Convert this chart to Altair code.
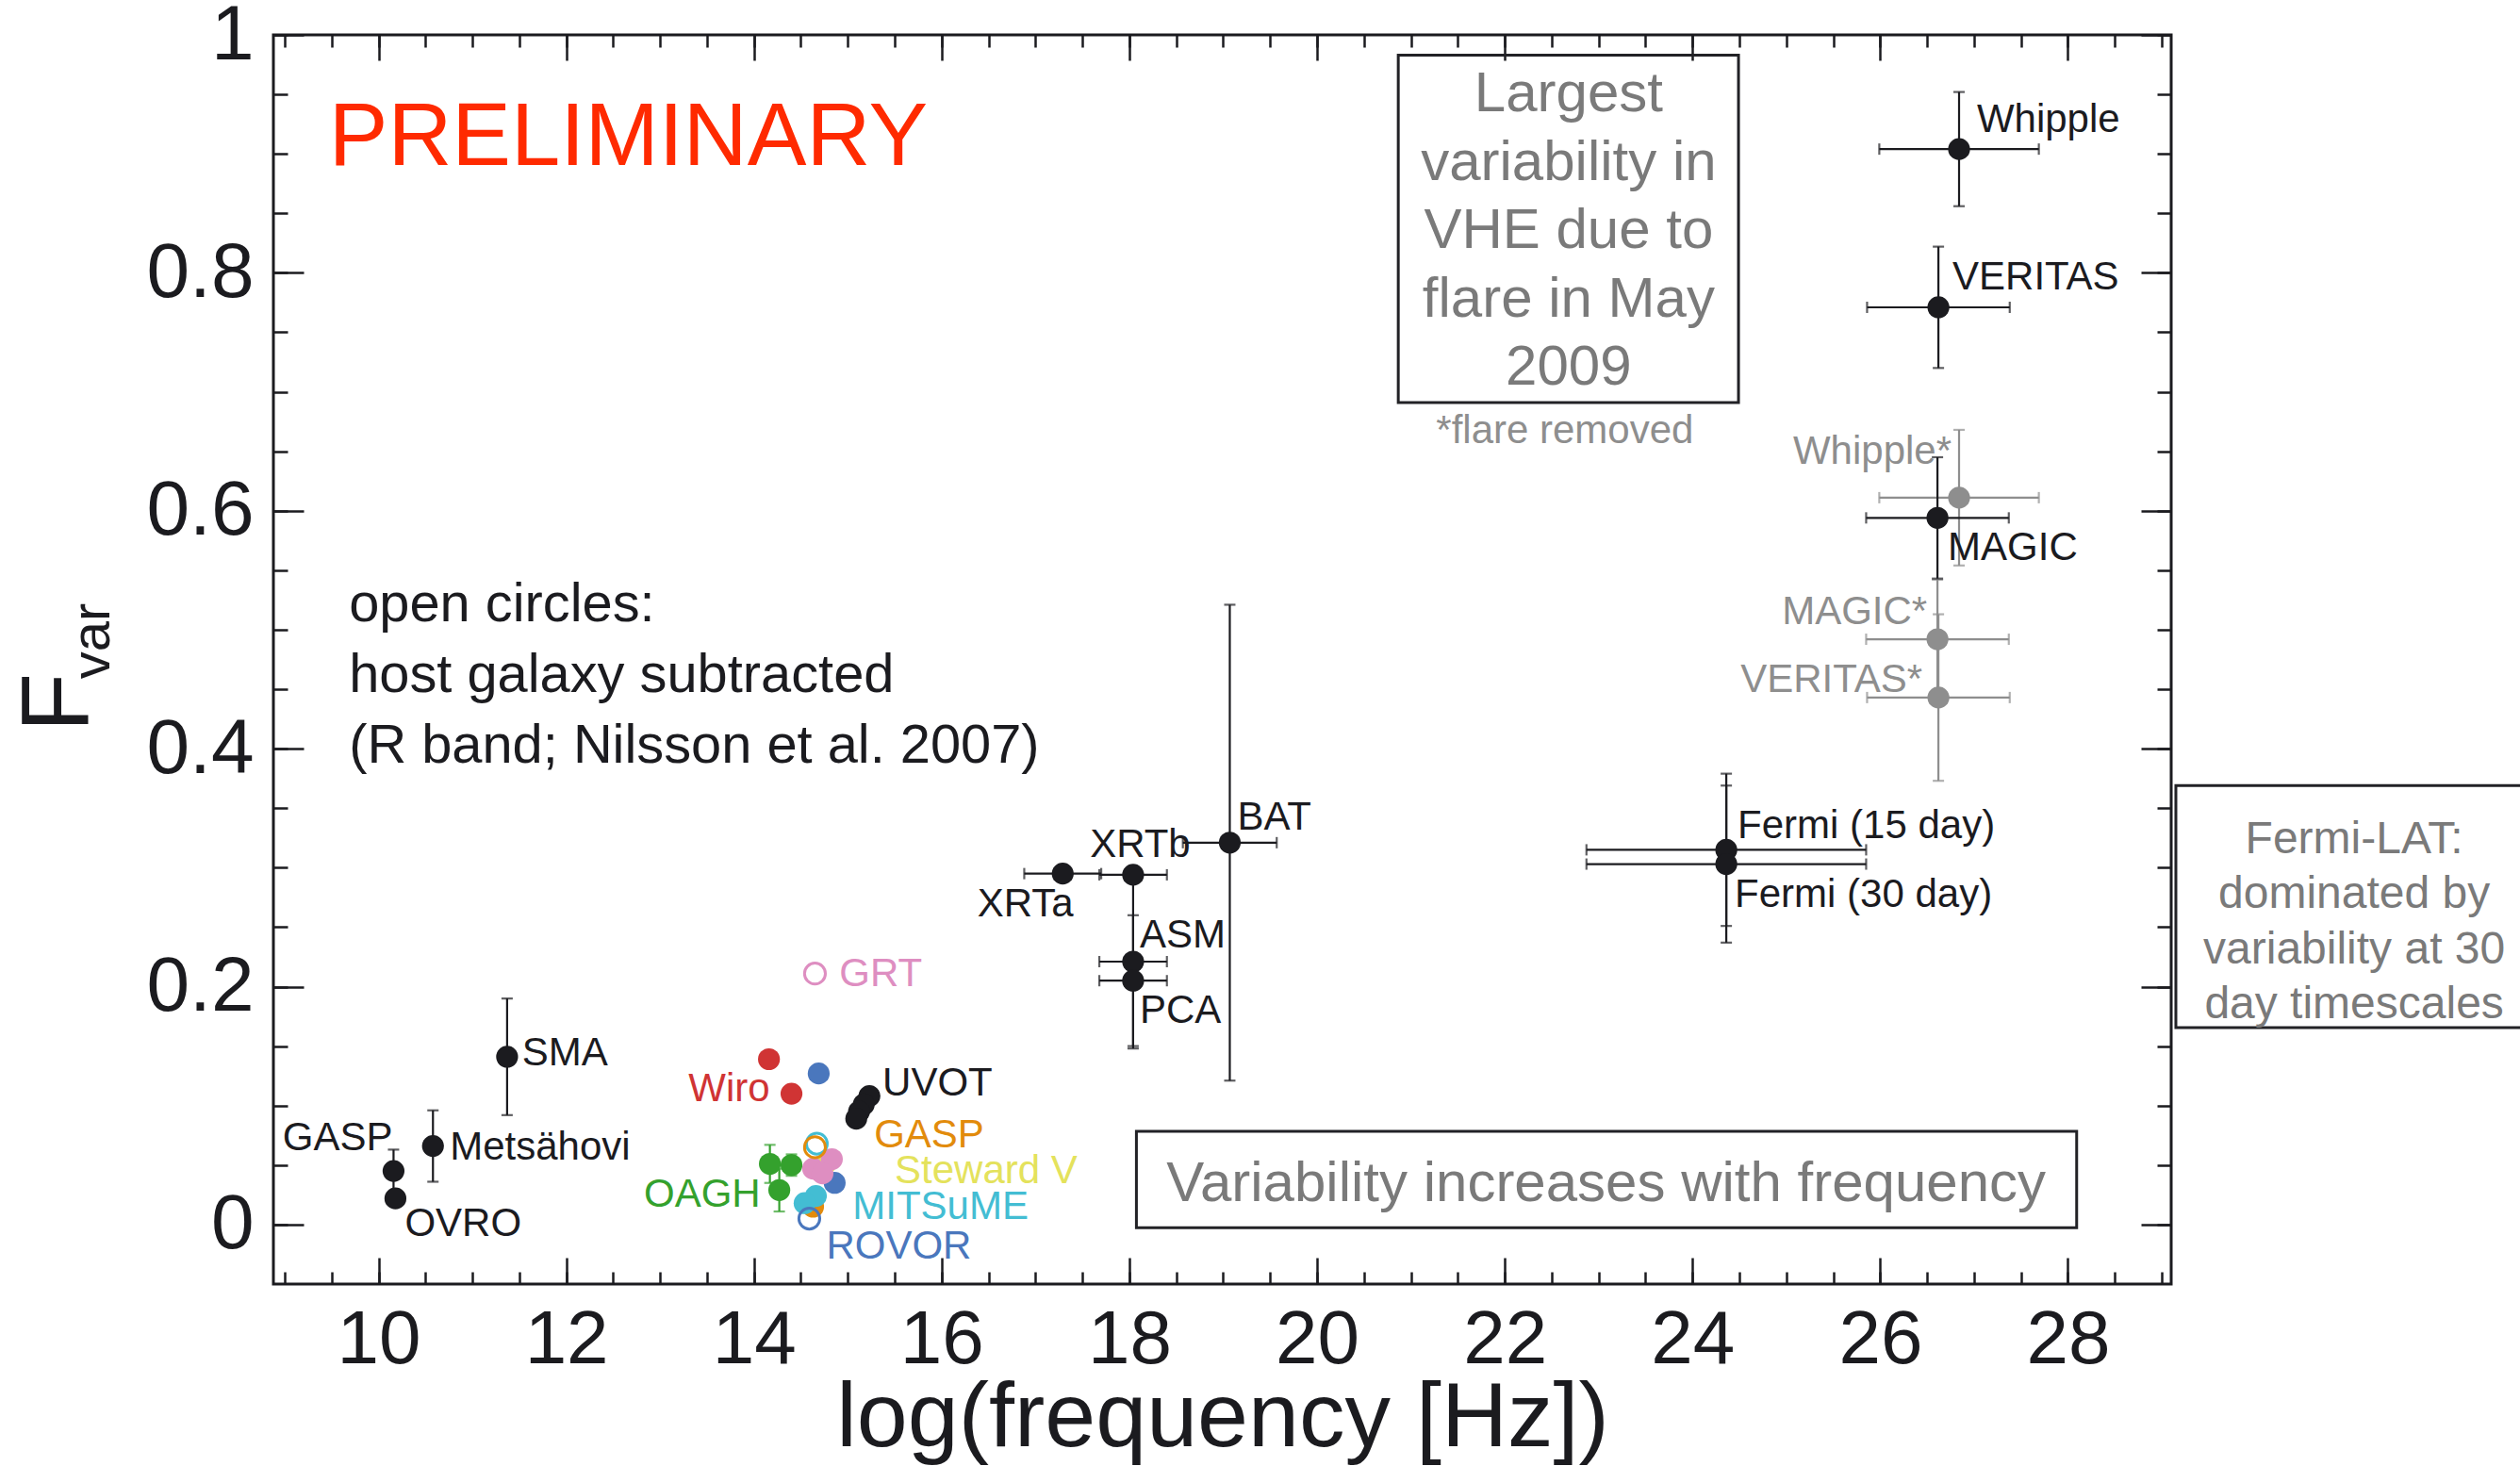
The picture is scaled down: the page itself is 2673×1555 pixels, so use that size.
import altair as alt
import pandas as pd

FONT = "Liberation Sans"
INK = "#1b1b1f"
GREY = "#8e8e8e"
BOXTXT = "#7a7a7a"

# ---------------- values ----------------
# radio, X-ray and gamma-ray measurements (black, with error bars)
blk_name = ["GASP", "OVRO", "Metsähovi", "SMA", "XRTa", "XRTb", "ASM", "PCA", "BAT",
            "Fermi (15 day)", "Fermi (30 day)", "MAGIC", "VERITAS", "Whipple"]
blk_logf = [10.16, 10.18, 10.58, 11.37, 17.29, 18.04, 18.04, 18.04, 19.07,
            24.36, 24.36, 26.61, 26.62, 26.84]
blk_fvar = [0.045, 0.022, 0.066, 0.141, 0.295, 0.294, 0.221, 0.205, 0.321,
            0.315, 0.303, 0.594, 0.771, 0.904]
blk_xerr = [0, 0, 0, 0, 0.41, 0.36, 0.36, 0.36, 0.50, 1.49, 1.49, 0.76, 0.76, 0.85]
blk_yerr = [0.018, 0, 0.030, 0.049, 0, 0, 0.073, 0.055, 0.20, 0.064, 0.066, 0.051, 0.051, 0.048]

# VHE with the May 2009 flare removed (grey)
gry_name = ["Whipple*", "MAGIC*", "VERITAS*"]
gry_logf = [26.84, 26.61, 26.62]
gry_fvar = [0.611, 0.492, 0.443]
gry_xerr = [0.85, 0.76, 0.76]
gry_yerr = [0.057, 0.050, 0.070]

# optical / UV measurements (filled circles)
opt_cat = ["Wiro", "Wiro", "ROVOR", "ROVOR", "UVOT", "UVOT", "UVOT", "UVOT",
           "OAGH", "OAGH", "OAGH", "Steward V", "GRT", "GRT", "GRT",
           "GASP (R)", "MITSuME", "MITSuME"]
opt_logf = [14.16, 14.40, 14.69, 14.86, 15.23, 15.17, 15.12, 15.09,
            14.17, 14.40, 14.27, 14.76, 14.83, 14.63, 14.73,
            14.63, 14.66, 14.54]
opt_fvar = [0.139, 0.110, 0.127, 0.035, 0.108, 0.101, 0.095, 0.089,
            0.051, 0.050, 0.029, 0.051, 0.055, 0.047, 0.043,
            0.015, 0.024, 0.018]
opt_yerr = [0, 0, 0, 0, 0, 0, 0, 0, 0.016, 0.009, 0.018, 0, 0, 0, 0, 0, 0, 0]

# host-galaxy subtracted (open circles)
open_cat = ["GRT", "MITSuME", "GASP (R)", "ROVOR"]
open_logf = [14.65, 14.67, 14.65, 14.59]
open_fvar = [0.211, 0.068, 0.065, 0.005]

# colour categories
cat_domain = ["main", "flare removed", "Wiro", "ROVOR", "UVOT", "OAGH", "GRT",
              "Steward V", "MITSuME", "GASP (R)"]
cat_colors = [INK, GREY, "#d03434", "#4a77bd", INK, "#34a12d", "#de8ec1",
              "#e4e25c", "#43bdd3", "#e28b0c"]

# point labels (anchor in data units, side of anchor)
lab_text = ["Whipple", "VERITAS", "MAGIC", "Fermi (15 day)", "Fermi (30 day)", "BAT",
            "XRTb", "XRTa", "ASM", "PCA", "SMA", "Metsähovi", "OVRO",
            "GRT", "UVOT", "GASP", "Steward V", "MITSuME", "ROVOR",
            "Whipple*", "MAGIC*", "VERITAS*", "GASP", "Wiro", "OAGH"]
lab_cat = ["main"] * 13 + ["GRT", "UVOT", "GASP (R)", "Steward V", "MITSuME", "ROVOR",
                           "flare removed", "flare removed", "flare removed", "main", "Wiro", "OAGH"]
lab_x = [27.03, 26.77, 26.72, 24.48, 24.45, 19.15, 17.58, 16.38, 18.11, 18.11, 11.53, 10.76, 10.28,
         14.91, 15.37, 15.28, 15.50, 15.05, 14.77,
         26.76, 26.50, 26.45, 10.15, 14.17, 14.07]
lab_y = [0.929, 0.796, 0.569, 0.335, 0.277, 0.342, 0.319, 0.269, 0.243, 0.180, 0.1445, 0.065, 0.001,
         0.211, 0.119, 0.075, 0.045, 0.015, -0.018,
         0.650, 0.515, 0.458, 0.073, 0.114, 0.0256]
lab_side = ["left"] * 19 + ["right"] * 6

# ---------------- tables ----------------
def table(cat, logf, fvar, xerr, yerr):
    d = pd.DataFrame({"cat": cat, "logf": logf, "fvar": fvar, "xerr": xerr, "yerr": yerr})
    d["xlo"] = d.logf - d.xerr
    d["xhi"] = d.logf + d.xerr
    d["ylo"] = d.fvar - d.yerr
    d["yhi"] = d.fvar + d.yerr
    return d

blk = table(["main"] * len(blk_name), blk_logf, blk_fvar, blk_xerr, blk_yerr)
gry = table(["flare removed"] * len(gry_name), gry_logf, gry_fvar, gry_xerr, gry_yerr)
opt = table(opt_cat, opt_logf, opt_fvar, [0] * len(opt_cat), opt_yerr)
opn = pd.DataFrame({"cat": open_cat, "logf": open_logf, "fvar": open_fvar})
labs = pd.DataFrame({"text": lab_text, "cat": lab_cat, "logf": lab_x, "fvar": lab_y, "side": lab_side})

XS = alt.Scale(domain=[8.88, 29.1], nice=False, zero=False)
YS = alt.Scale(domain=[-0.05, 1.0], nice=False, zero=False)
COL = alt.Color("cat:N", scale=alt.Scale(domain=cat_domain, range=cat_colors), legend=None)

def X(f):
    return alt.X(f, type="quantitative", scale=XS, axis=None)

def Y(f):
    return alt.Y(f, type="quantitative", scale=YS, axis=None)

# ---------------- axes (ticks pointing inward) ----------------
dummy = pd.DataFrame({"logf": [20.0], "fvar": [0.5]})
x_major = [10, 12, 14, 16, 18, 20, 22, 24, 26, 28]
x_minor = [9 + 0.5 * i for i in range(41)]
y_major = [0, 0.2, 0.4, 0.6, 0.8, 1.0]
y_minor = [round(0.05 * i, 2) for i in range(21)]

def axis_layer(orient, values, size, labels, **extra):
    ax = alt.Axis(orient=orient, values=values, tickSize=size, offset=-size, domain=False,
                  grid=False, labels=labels, ticks=True, tickColor=INK, tickWidth=2.5,
                  labelFlush=False, labelOverlap=False, labelFont=FONT, labelColor=INK,
                  **extra)
    if orient in ("top", "bottom"):
        enc = {"x": alt.X("logf:Q", scale=XS, axis=ax)}
    else:
        enc = {"y": alt.Y("fvar:Q", scale=YS, axis=ax)}
    return alt.Chart(dummy).mark_point(opacity=0).encode(**enc)

axes = [
    axis_layer("bottom", x_major, 28, True, format="d", labelFontSize=80, labelPadding=20,
               title="log(frequency [Hz])", titleFont=FONT, titleFontSize=97,
               titleFontWeight="normal", titleColor=INK, titleBaseline="alphabetic",
               titleY=199),
    axis_layer("bottom", x_minor, 13, False, title=None),
    axis_layer("top", x_major, 27, False, title=None),
    axis_layer("top", x_minor, 13, False, title=None),
    axis_layer("left", y_major, 32, True, format="~g", labelFontSize=82, labelPadding=21,
               title=None),
    axis_layer("left", y_minor, 15, False, title=None),
    axis_layer("right", y_major, 32, False, title=None),
    axis_layer("right", y_minor, 15, False, title=None),
]

# ---------------- measurements ----------------
def errbars(d):
    dx = d[d.xerr > 0]
    dy = d[d.yerr > 0]
    return [
        alt.Chart(dx).mark_rule(strokeWidth=2.2).encode(x=X("xlo"), x2="xhi", y=Y("fvar"), color=COL),
        alt.Chart(dx).transform_fold(["xlo", "xhi"], as_=["end", "xend"]).mark_tick(
            orient="vertical", size=12, thickness=2.2).encode(x=X("xend"), y=Y("fvar"), color=COL),
        alt.Chart(dy).mark_rule(strokeWidth=2.2).encode(x=X("logf"), y=Y("ylo"), y2="yhi", color=COL),
        alt.Chart(dy).transform_fold(["ylo", "yhi"], as_=["end", "yend"]).mark_tick(
            orient="horizontal", size=12, thickness=2.2).encode(x=X("logf"), y=Y("yend"), color=COL),
    ]

def dots(d):
    return alt.Chart(d).mark_circle(size=540, opacity=1).encode(x=X("logf"), y=Y("fvar"), color=COL)

open_dots = alt.Chart(opn).mark_point(filled=False, size=490, strokeWidth=3, opacity=1).encode(
    x=X("logf"), y=Y("fvar"), color=COL)

labels_left = alt.Chart(labs[labs.side == "left"]).mark_text(
    align="left", baseline="middle", font=FONT, fontSize=42).encode(
    x=X("logf"), y=Y("fvar"), text="text:N", color=COL)
labels_right = alt.Chart(labs[labs.side == "right"]).mark_text(
    align="right", baseline="middle", font=FONT, fontSize=42).encode(
    x=X("logf"), y=Y("fvar"), text="text:N", color=COL)

# ---------------- annotations ----------------
boxes = pd.DataFrame({"x1": [20.865, 18.075, 29.15], "x2": [24.49, 28.093, 33.5],
                      "y1": [0.983, 0.0784, 0.369], "y2": [0.691, -0.0027, 0.1656]})
box_layer = alt.Chart(boxes).mark_rect(fill="white", fillOpacity=0, stroke="#222226",
                                       strokeWidth=3).encode(
    x=X("x1"), x2="x2", y=Y("y1"), y2="y2")

def note(text, x, y, size, color, align="center", lh=None):
    d = pd.DataFrame({"t": [text], "logf": [x], "fvar": [y]})
    kw = dict(align=align, baseline="alphabetic", font=FONT, fontSize=size, color=color)
    if lh is not None:
        kw.update(lineBreak="\n", lineHeight=lh)
    return alt.Chart(d).mark_text(**kw).encode(x=X("logf"), y=Y("fvar"), text="t:N")

notes = [
    note("PRELIMINARY", 9.47, 0.891, 94, "#ff2a00", align="left"),
    note("open circles:\nhost galaxy subtracted\n(R band; Nilsson et al. 2007)", 9.685, 0.507,
         57.8, INK, align="left", lh=75),
    note("Largest\nvariability in\nVHE due to\nflare in May\n2009", 22.68, 0.9358, 60, BOXTXT, lh=72.5),
    note("*flare removed", 22.64, 0.657, 42, GREY),
    note("Variability increases with frequency", 23.08, 0.0194, 60, BOXTXT),
    note("Fermi-LAT:\ndominated by\nvariability at 30\nday timescales", 31.05, 0.3122, 48, BOXTXT, lh=58.3),
]

ytitle = [
    alt.Chart(pd.DataFrame({"t": ["F"]})).mark_text(
        align="center", baseline="alphabetic", angle=270, font=FONT, fontSize=102, color=INK).encode(
        text="t:N", x=alt.value(-196), y=alt.value(708)),
    alt.Chart(pd.DataFrame({"t": ["var"]})).mark_text(
        align="center", baseline="alphabetic", angle=270, font=FONT, fontSize=58, color=INK).encode(
        text="t:N", x=alt.value(-174), y=alt.value(643)),
]

layers = (axes + [box_layer] + errbars(gry) + errbars(blk) + errbars(opt)
          + [dots(gry), dots(blk), dots(opt), open_dots, labels_left, labels_right]
          + notes + ytitle)

chart = alt.layer(*layers).resolve_axis(x="independent", y="independent").properties(
    width=2013, height=1325,
    padding={"left": 290, "top": 37, "right": 370, "bottom": 193},
    autosize=alt.AutoSizeParams(type="none"),
    background="white",
).configure_view(stroke=INK, strokeWidth=3)

chart.save("out.html", embed_options={"renderer": "svg", "actions": False})
